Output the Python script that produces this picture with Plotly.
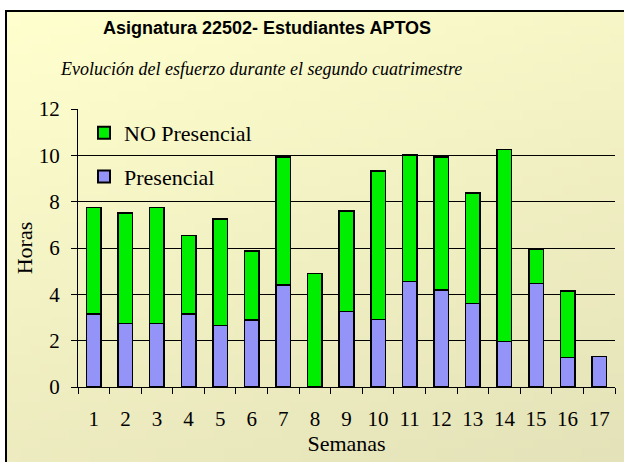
import base64, struct, zlib
import plotly.graph_objects as go

semanas = [str(i) for i in range(1, 18)]
presencial = [3.16, 2.75, 2.75, 3.16, 2.65, 2.90, 4.40, 0.0, 3.27, 2.92, 4.55, 4.19, 3.61, 1.96, 4.47, 1.28, 1.31]
no_presencial = [4.58, 4.76, 4.99, 3.39, 4.60, 2.97, 5.53, 4.91, 4.33, 6.40, 5.46, 5.74, 4.76, 8.30, 1.49, 2.86, 0.0]
y_ticks = [0, 2, 4, 6, 8, 10, 12]

W, H = 624, 462
L, R, T, B = 78, 615, 109, 387
pw, ph = R - L, B - T


def px_x(p):
    return (p - L) / pw


def px_y(p):
    return (B - p) / ph


def make_png(w, h):
    c0 = (255, 255, 206)
    c1 = (228, 226, 184)
    rows = []
    for j in range(h):
        row = bytearray(b"\x00")
        for i in range(w):
            t = 0.68 * j / (h - 1) + 0.32 * i / (w - 1)
            row += bytes(int(round(c0[k] + (c1[k] - c0[k]) * t)) for k in range(3))
        rows.append(bytes(row))
    raw = b"".join(rows)

    def chunk(tag, data):
        return struct.pack(">I", len(data)) + tag + data + struct.pack(">I", zlib.crc32(tag + data) & 0xffffffff)

    png = b"\x89PNG\r\n\x1a\n" + chunk(b"IHDR", struct.pack(">IIBBBBB", w, h, 8, 2, 0, 0, 0))
    png += chunk(b"IDAT", zlib.compress(raw, 9)) + chunk(b"IEND", b"")
    return "data:image/png;base64," + base64.b64encode(png).decode()


bg = make_png(64, 48)

serif = "Liberation Serif"

fig = go.Figure()
fig.add_trace(go.Bar(
    x=semanas, y=presencial, name="Presencial", legendgroup="p", legendrank=2,
    marker=dict(color="#9494F8", line=dict(color="#000000", width=1.5)),
))
fig.add_trace(go.Bar(
    x=semanas, y=no_presencial, name="NO Presencial", legendgroup="n", legendrank=1,
    marker=dict(color="#00EE00", line=dict(color="#000000", width=1.5)),
))

fig.update_layout(
    width=W, height=H,
    margin=dict(l=L, r=W - R, t=T, b=H - B, autoexpand=False),
    barmode="stack", bargap=0.54,
    paper_bgcolor="#FFFFFF", plot_bgcolor="rgba(0,0,0,0)",
    font=dict(family=serif, size=21, color="#000000"),
    showlegend=True,
    legend=dict(
        x=px_x(84), y=px_y(112), xanchor="left", yanchor="top",
        traceorder="grouped", tracegroupgap=12,
        bgcolor="rgba(0,0,0,0)", font=dict(family=serif, size=22),
        itemsizing="constant",
    ),
    xaxis=dict(
        type="category", tickson="boundaries", ticks="outside", ticklen=6,
        tickcolor="#000000", showline=True, linecolor="#000000", linewidth=1,
        showgrid=False, tickfont=dict(family=serif, size=21),
        ticklabelstandoff=13,
        title=dict(text="Semanas", font=dict(family=serif, size=22), standoff=0),
    ),
    yaxis=dict(
        range=[0, 12], tickvals=y_ticks, ticks="outside", ticklen=6,
        tickcolor="#000000", showline=True, linecolor="#000000", linewidth=1,
        showgrid=True, gridcolor="#000000", gridwidth=1, zeroline=False,
        tickfont=dict(family=serif, size=21), ticklabelstandoff=7,
        title=dict(text="Horas", font=dict(family=serif, size=22), standoff=0),
    ),
    images=[dict(
        source=bg, xref="paper", yref="paper",
        x=px_x(6), y=px_y(11), sizex=(W - 6) / pw, sizey=(H - 11) / ph,
        xanchor="left", yanchor="top", sizing="stretch", layer="below",
    )],
    shapes=[dict(
        type="rect", xref="paper", yref="paper",
        x0=px_x(6), x1=px_x(640), y0=px_y(480), y1=px_y(11),
        line=dict(color="#000000", width=2), layer="below",
    )],
    annotations=[
        dict(text="Asignatura 22502- Estudiantes APTOS", xref="paper", yref="paper",
             x=px_x(267), y=px_y(28), xanchor="center", yanchor="middle", showarrow=False,
             font=dict(family="Liberation Sans", size=18, color="#000000", weight="bold")),
        dict(text="Evolución del esfuerzo durante el segundo cuatrimestre", xref="paper", yref="paper",
             x=px_x(261), y=px_y(69), xanchor="center", yanchor="middle", showarrow=False,
             font=dict(family="Liberation Serif", size=18, color="#000000", style="italic")),
    ],
)

fig.write_html("out.html", config={"displayModeBar": False},
               post_script="document.body.style.margin='0';document.body.style.padding='0';")
